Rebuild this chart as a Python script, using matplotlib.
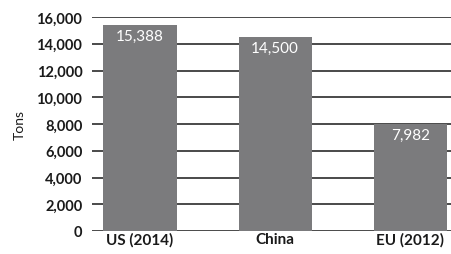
import matplotlib.pyplot as plt
import numpy as np

regions = ['US (2014)', 'China', 'EU (2012)']
tons = [15388, 14500, 7982]
value_labels = ['15,388', '14,500', '7,982']
yticks = np.arange(0, 16001, 2000)

plt.rcParams['font.family'] = ['Lato', 'DejaVu Sans']

fig = plt.figure(figsize=(4.51, 2.55), dpi=100)
ax = fig.add_axes([92 / 451, 1 - 232 / 255, 1 - 92 / 451, 214 / 255])

x = np.arange(len(regions))
ax.bar(x, tons, width=0.54, color='#7b7b7d', zorder=2)
for xi, v, lab in zip(x, tons, value_labels):
    ax.text(xi, v - 300, lab, color='white', ha='center', va='top', fontsize=11, zorder=3)

ax.set_ylim(0, 16000)
ax.set_xlim(-0.355, 2.3)
ax.set_yticks(yticks)
ax.set_yticklabels([f'{t:,}' for t in yticks], fontsize=10.5, fontweight='bold', color='#1a1a1a')
ax.set_xticks(x)
ax.set_xticklabels(regions, fontsize=11, fontweight='bold', color='#1a1a1a', va='top')
ax.tick_params(axis='y', length=0, pad=7)
ax.tick_params(axis='x', length=0, pad=1)
ax.yaxis.grid(True, color='#4a4a4a', linewidth=1.4, zorder=0)
for s in ax.spines.values():
    s.set_visible(False)
ax.set_ylabel('Tons', fontsize=10, color='#1a1a1a', labelpad=8)

plt.savefig('out.png', dpi=100)
